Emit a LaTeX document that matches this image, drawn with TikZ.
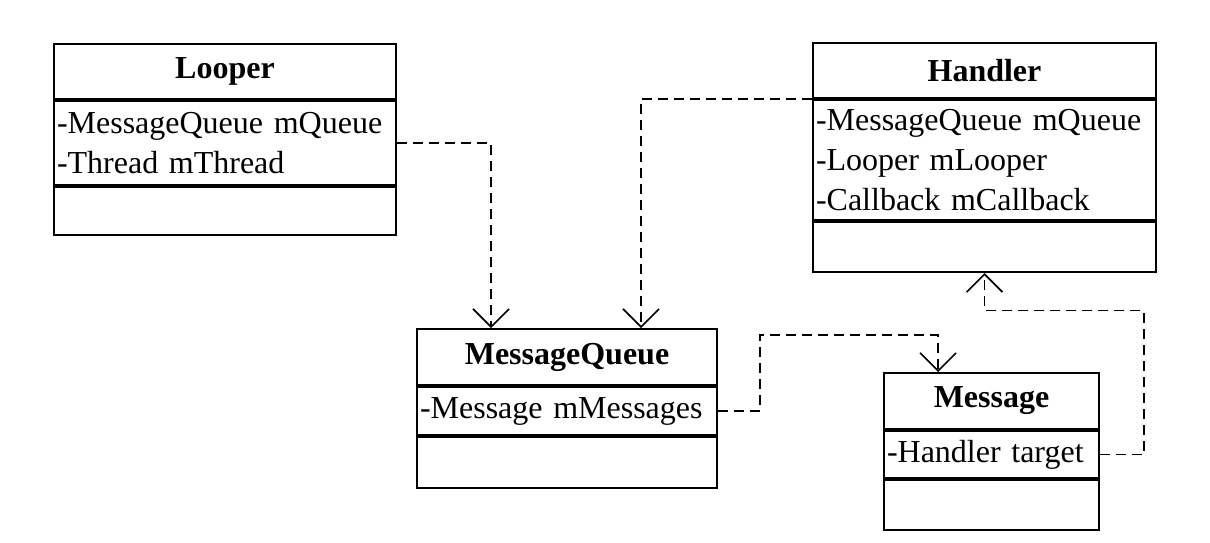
\documentclass[tikz,border=0pt]{standalone}
\usepackage{fontspec}
\setmainfont{Liberation Serif}
\usetikzlibrary{arrows.meta}
\begin{document}
\begin{tikzpicture}[x=0.5pt, y=-0.5pt,
font=\fontsize{16pt}{20pt}\selectfont,
classhead/.style={draw, line width=1pt, font=\fontsize{16pt}{20pt}\selectfont\bfseries, inner sep=0pt, anchor=north west},
classpart/.style={draw, line width=1pt, inner xsep=1.5pt, inner ysep=0pt, align=left, anchor=north},
dep/.style={line width=0.8pt, dash pattern=on 5pt off 3pt, -{Straight Barb[length=9pt, width=18pt, line width=0.8pt]}},
link/.style={line width=0.8pt, dash pattern=on 5pt off 3pt}]
\useasboundingbox (0,0) rectangle (1210,542);

% Draw the Looper class
\node[classhead, minimum width=171pt, minimum height=27.5pt] (looper) at (53,43) {Looper};
\node[classpart, text width=168pt, minimum height=42pt] (looperAttr) at (looper.south) {-MessageQueue mQueue\\-Thread mThread};
\node[classpart, text width=168pt, minimum height=24pt] (looperOps) at (looperAttr.south) {};

% Draw the Handler class
\node[classhead, minimum width=171.5pt, minimum height=27.5pt] (handler) at (812,42) {Handler};
\node[classpart, text width=168.5pt, minimum height=60pt] (handlerAttr) at (handler.south) {-MessageQueue mQueue\\-Looper mLooper\\-Callback mCallback};
\node[classpart, text width=168.5pt, minimum height=25pt] (handlerOps) at (handlerAttr.south) {};

% Draw the MessageQueue class
\node[classhead, minimum width=150pt, minimum height=28pt] (mq) at (416,328) {MessageQueue};
\node[classpart, text width=147pt, minimum height=24pt] (mqAttr) at (mq.south) {-Message mMessages};
\node[classpart, text width=147pt, minimum height=25.5pt] (mqOps) at (mqAttr.south) {};

% Draw the Message class
\node[classhead, minimum width=107.5pt, minimum height=28pt] (message) at (883,372) {Message};
\node[classpart, text width=104.5pt, minimum height=23.5pt] (messageAttr) at (message.south) {-Handler target};
\node[classpart, text width=104.5pt, minimum height=25pt] (messageOps) at (messageAttr.south) {};

% Dependencies
\draw[dep] (looperAttr.east) -| ([xshift=-38pt]mq.north);
\draw[dep] (handler.south west) -| ([xshift=37pt]mq.north);
\draw[dep] (mqAttr.east) -- ++(42,0) -- ++(0,-76) -| ([xshift=-26.75pt]message.north);
\draw[dep] (messageAttr.east) -- ++(44,0) -- ++(0,-144) -| (handlerOps.south);

\end{tikzpicture}
\end{document}
